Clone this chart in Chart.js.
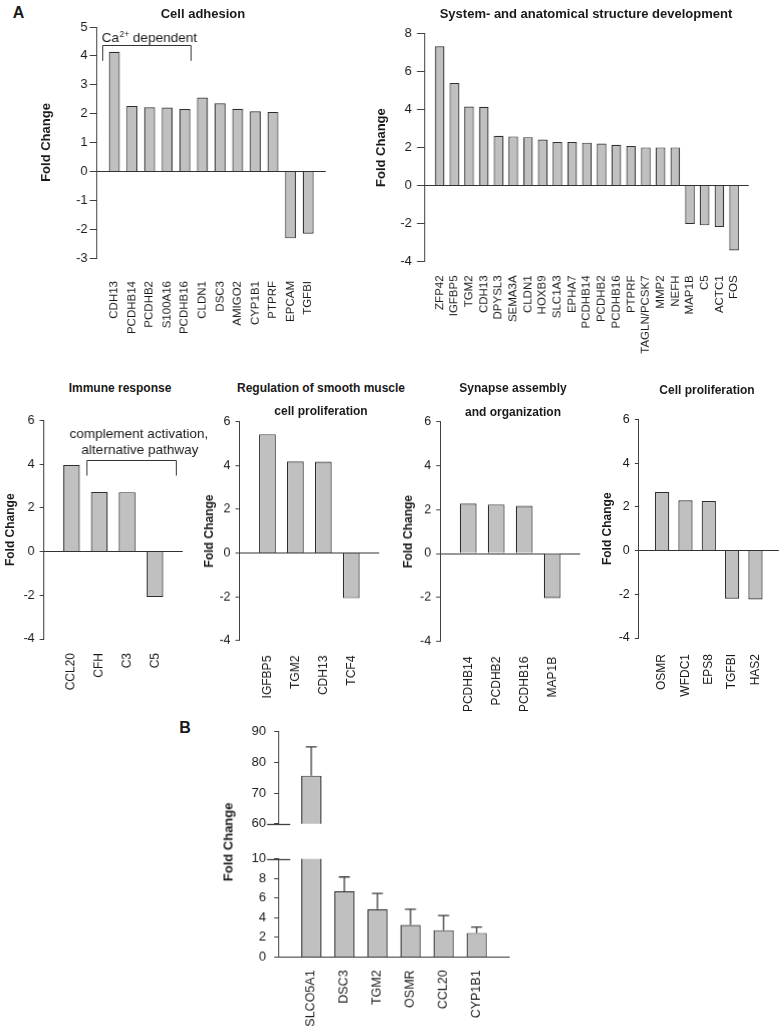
<!DOCTYPE html>
<html>
<head>
<meta charset="utf-8">
<script src="https://cdn.jsdelivr.net/npm/chart.js@4.4.1/dist/chart.umd.min.js"></script>
<style>
  body { margin: 0; background: #fff; width: 782px; height: 1027px; position: relative; overflow: hidden;
         font-family: 'Liberation Sans', Arial, sans-serif; color: #1a1a1a; }
  .txt { position: absolute; line-height: 1; white-space: nowrap; font-weight: bold; transform: translate(-50%, -50%); }
</style>
</head>
<body>
<script>
// ---- data ----
const adhesionGenes = ["CDH13", "PCDHB14", "PCDHB2", "S100A16", "PCDHB16", "CLDN1", "DSC3", "AMIGO2", "CYP1B1", "PTPRF", "EPCAM", "TGFBI"];
const adhesionFold = [4.14, 2.26, 2.22, 2.21, 2.16, 2.56, 2.36, 2.17, 2.08, 2.06, -2.32, -2.16];

const devGenes = ["ZFP42", "IGFBP5", "TGM2", "CDH13", "DPYSL3", "SEMA3A", "CLDN1", "HOXB9", "SLC1A3", "EPHA7", "PCDHB14",
                  "PCDHB2", "PCDHB16", "PTPRF", "TAGLN/PCSK7", "MMP2", "NEFH", "MAP1B", "C5", "ACTC1", "FOS"];
const devFold = [7.34, 5.40, 4.17, 4.15, 2.62, 2.59, 2.55, 2.43, 2.29, 2.29, 2.26,
                 2.22, 2.15, 2.08, 2.01, 2.01, 2.01, -2.03, -2.10, -2.19, -3.42];

const immuneGenes = ["CCL20", "CFH", "C3", "C5"];
const immuneFold = [3.96, 2.73, 2.72, -2.08];

const smoothGenes = ["IGFBP5", "TGM2", "CDH13", "TCF4"];
const smoothFold = [5.42, 4.18, 4.17, -2.07];

const synapseGenes = ["PCDHB14", "PCDHB2", "PCDHB16", "MAP1B"];
const synapseFold = [2.27, 2.23, 2.17, -2.03];

const prolifGenes = ["OSMR", "WFDC1", "EPS8", "TGFBI", "HAS2"];
const prolifFold = [2.68, 2.30, 2.27, -2.20, -2.24];

// panel B (qPCR), mean and upper error
const qpcrGenes = ["SLCO5A1", "DSC3", "TGM2", "OSMR", "CCL20", "CYP1B1"];
const qpcrFold = [75.7, 6.71, 4.87, 3.26, 2.74, 2.46];
const qpcrErr = [9.4, 1.45, 1.61, 1.61, 1.49, 0.59];

// ---- style ----
const FONT = "'Liberation Sans', Arial, sans-serif";
const INK = '#1a1a1a';
const BAR_FILL = '#c0c0c0';
const BAR_EDGE = '#2e2e2e';
const AXIS = '#404040';
Chart.defaults.font.family = FONT;
Chart.defaults.color = INK;

function text(str, cx, cy, size, rotate) {
    const d = document.createElement('div');
    d.className = 'txt';
    d.textContent = str;
    d.style.left = cx + 'px';
    d.style.top = cy + 'px';
    d.style.fontSize = size + 'px';
    if (rotate) d.style.transform = 'translate(-50%, -50%) rotate(-90deg)';
    document.body.appendChild(d);
}

// bracket over a group of bars, text drawn by the caller
function bracketPlugin(b) {
    return {
        id: 'bracket',
        afterDatasetsDraw(chart) {
            const { ctx, scales: { x, y } } = chart;
            const x0 = Math.round(x.getPixelForValue(b.from)) + 0.5, x1 = Math.round(x.getPixelForValue(b.to)) + 0.5;
            const yt = Math.round(y.getPixelForValue(b.top)) + 0.5, yb = y.getPixelForValue(b.foot);
            ctx.save();
            ctx.strokeStyle = '#333';
            ctx.lineWidth = 1;
            ctx.beginPath();
            ctx.moveTo(x0, yb); ctx.lineTo(x0, yt); ctx.lineTo(x1, yt); ctx.lineTo(x1, yb);
            ctx.stroke();
            ctx.fillStyle = INK;
            b.label(ctx, x, y);
            ctx.restore();
        }
    };
}

const caBracket = bracketPlugin({
    from: 0.34, to: 5.32, top: 4.37, foot: 3.83,
    label(ctx, x, y) {
        let px = x.getPixelForValue(0.28);
        const py = y.getPixelForValue(4.48);
        ctx.textBaseline = 'alphabetic';
        ctx.textAlign = 'left';
        ctx.font = `13.5px ${FONT}`;
        ctx.fillText('Ca', px, py);
        px += ctx.measureText('Ca').width + 0.5;
        ctx.font = `8.5px ${FONT}`;
        ctx.fillText('2+', px, py - 5.5);
        px += ctx.measureText('2+').width;
        ctx.font = `13.5px ${FONT}`;
        ctx.fillText(' dependent', px, py);
    }
});

const complementBracket = bracketPlugin({
    from: 1.54, to: 4.75, top: 4.21, foot: 3.48,
    label(ctx, x, y) {
        ctx.textAlign = 'center';
        ctx.textBaseline = 'alphabetic';
        ctx.font = `13.5px ${FONT}`;
        ctx.fillText('complement activation,', x.getPixelForValue(3.42), y.getPixelForValue(5.22));
        ctx.fillText('alternative pathway', x.getPixelForValue(3.46), y.getPixelForValue(4.45));
    }
});

// upper error whiskers for panel B, clipped to each half of the broken axis
const errorBars = {
    id: 'errorBars',
    afterDatasetsDraw(chart) {
        const { ctx, chartArea: a, scales: { x, y } } = chart;
        ctx.save();
        ctx.beginPath();
        ctx.rect(a.left, a.top - 1, a.right - a.left, a.bottom - a.top + 1);
        ctx.clip();
        ctx.strokeStyle = '#3a3a3a';
        ctx.lineWidth = 1.3;
        qpcrFold.forEach((v, i) => {
            const px = x.getPixelForValue(i + 1);
            const y0 = y.getPixelForValue(v), y1 = y.getPixelForValue(v + qpcrErr[i]);
            ctx.beginPath();
            ctx.moveTo(px, y0); ctx.lineTo(px, y1);
            ctx.moveTo(px - 5.5, y1); ctx.lineTo(px + 5.5, y1);
            ctx.stroke();
        });
        ctx.restore();
    }
};

// long tick marking the break in the y axis
function axisBreak(value) {
    return {
        id: 'axisBreak',
        afterDraw(chart) {
            const { ctx, scales: { y } } = chart;
            const py = Math.round(y.getPixelForValue(value)) + 0.5;
            ctx.save();
            ctx.strokeStyle = AXIS;
            ctx.lineWidth = 1.3;
            ctx.beginPath();
            ctx.moveTo(y.right - 11, py); ctx.lineTo(y.right + 12, py);
            ctx.stroke();
            ctx.restore();
        }
    };
}

function makePanel(p) {
    const n = p.genes.length;
    const lh = p.titleSize ? p.titleSize * 1.2 : 0;
    const wy = p.titleX != null ? p.axisX - (p.titleX - lh / 2) : p.wy;
    const padTop = 10, padRight = p.padRight || 10;
    const box = document.createElement('div');
    box.style.position = 'absolute';
    box.style.left = (p.axisX - wy) + 'px';
    box.style.top = (p.top - padTop) + 'px';
    box.style.width = (p.right - p.axisX + wy + padRight) + 'px';
    box.style.height = (p.bottom - p.top + padTop + (p.hx || 10)) + 'px';
    const cv = document.createElement('canvas');
    box.appendChild(cv);
    document.body.appendChild(box);

    return new Chart(cv, {
        type: 'bar',
        data: {
            datasets: [{
                data: p.values.map((v, i) => ({ x: i + 1, y: v })),
                backgroundColor: BAR_FILL,
                borderColor: BAR_EDGE,
                borderWidth: 1.2,
                categoryPercentage: 1,
                barPercentage: p.barPct
            }]
        },
        options: {
            responsive: true,
            maintainAspectRatio: false,
            animation: false,
            layout: { padding: { top: padTop, right: padRight, bottom: p.hx ? 0 : 10, left: 0 } },
            plugins: { legend: { display: false }, tooltip: { enabled: false } },
            scales: {
                x: {
                    type: 'linear',
                    min: 0,
                    max: n + 1,
                    offset: false,
                    display: !!p.hx,
                    grid: { display: false, offset: false },
                    border: { display: false },
                    afterBuildTicks: s => { s.ticks = p.genes.map((g, i) => ({ value: i + 1 })); },
                    afterFit: s => { s.height = p.hx; },
                    ticks: {
                        autoSkip: false,
                        minRotation: 90,
                        maxRotation: 90,
                        padding: p.labelPad,
                        color: INK,
                        font: { size: p.labelSize },
                        callback: v => p.genes[v - 1]
                    }
                },
                y: {
                    min: p.yMin,
                    max: p.yMax,
                    afterFit: s => { s.width = wy; },
                    ticks: { stepSize: p.yStep, padding: p.tickPad, color: INK, font: { size: p.tickSize || 12.5 } },
                    grid: {
                        color: c => (c.tick && c.tick.value === 0 ? '#333' : 'rgba(0,0,0,0)'),
                        tickColor: AXIS,
                        tickLength: p.tickLen,
                        lineWidth: 1
                    },
                    border: { display: true, color: AXIS, width: 1 },
                    title: {
                        display: p.titleX != null,
                        text: 'Fold Change',
                        color: INK,
                        padding: { top: 0, bottom: 0 },
                        font: { size: p.titleSize || 13, weight: 'bold' }
                    }
                }
            }
        },
        plugins: p.plugins || []
    });
}

// ---- panel A ----
makePanel({ genes: adhesionGenes, values: adhesionFold, axisX: 96.7, right: 327, top: 26.7, bottom: 257.7,
            yMin: -3, yMax: 5, yStep: 1, titleX: 47, titleSize: 13, hx: 80, labelPad: 15, labelSize: 11.5,
            tickLen: 7, tickPad: 2, tickSize: 13, barPct: 0.62, plugins: [caBracket] });
makePanel({ genes: devGenes, values: devFold, axisX: 425, right: 748, top: 30.7, bottom: 261.1,
            yMin: -4, yMax: 8, yStep: 2, titleX: 382, titleSize: 13, hx: 110, labelPad: 6, labelSize: 11.5,
            tickLen: 8, tickPad: 5, tickSize: 13, barPct: 0.65 });
makePanel({ genes: immuneGenes, values: immuneFold, axisX: 43.3, right: 181.7, top: 418.3, bottom: 639.3,
            yMin: -4, yMax: 6, yStep: 2, titleX: 10, titleSize: 12, hx: 75, labelPad: 6, labelSize: 12,
            tickLen: 4, tickPad: 5, barPct: 0.6, padRight: 40, plugins: [complementBracket] });
makePanel({ genes: smoothGenes, values: smoothFold, axisX: 239.3, right: 379, top: 419.3, bottom: 640,
            yMin: -4, yMax: 6, yStep: 2, titleX: 209, titleSize: 12, hx: 75, labelPad: 7, labelSize: 12,
            tickLen: 4, tickPad: 5, barPct: 0.6 });
makePanel({ genes: synapseGenes, values: synapseFold, axisX: 440, right: 580, top: 419, bottom: 640.7,
            yMin: -4, yMax: 6, yStep: 2, titleX: 408, titleSize: 12, hx: 75, labelPad: 7, labelSize: 12,
            tickLen: 4, tickPad: 5, barPct: 0.6 });
makePanel({ genes: prolifGenes, values: prolifFold, axisX: 638.3, right: 778.3, top: 417.3, bottom: 638.3,
            yMin: -4, yMax: 6, yStep: 2, titleX: 606.7, titleSize: 12, hx: 75, labelPad: 8, labelSize: 12,
            tickLen: 4, tickPad: 5, barPct: 0.61 });

// ---- panel B: broken axis drawn as two stacked charts ----
makePanel({ genes: qpcrGenes, values: qpcrFold, axisX: 278.3, right: 509, top: 725.7, bottom: 829.3,
            yMin: 60, yMax: 90, yStep: 10, wy: 48, hx: 0, tickSize: 13,
            tickLen: 4, tickPad: 8, barPct: 0.61, plugins: [errorBars, axisBreak(60)] });
makePanel({ genes: qpcrGenes, values: qpcrFold, axisX: 278.3, right: 509, top: 853.3, bottom: 956.7,
            yMin: 0, yMax: 10, yStep: 2, wy: 48, hx: 80, labelPad: 5, labelSize: 12.5, tickSize: 13,
            tickLen: 4, tickPad: 8, barPct: 0.61, plugins: [errorBars, axisBreak(10)] });

// ---- titles and panel letters ----
text('A', 18.5, 13, 16);
text('B', 185, 728, 16);
text('Cell adhesion', 203, 13, 13);
text('System- and anatomical structure development', 586, 13, 13);
text('Immune response', 120, 388, 12);
text('Regulation of smooth muscle', 321, 388, 12);
text('cell proliferation', 321, 411, 12);
text('Synapse assembly', 513, 388, 12);
text('and organization', 513, 412, 12);
text('Cell proliferation', 707, 390, 12);
text('Fold Change', 228.3, 841.7, 13, true);
</script>
</body>
</html>
